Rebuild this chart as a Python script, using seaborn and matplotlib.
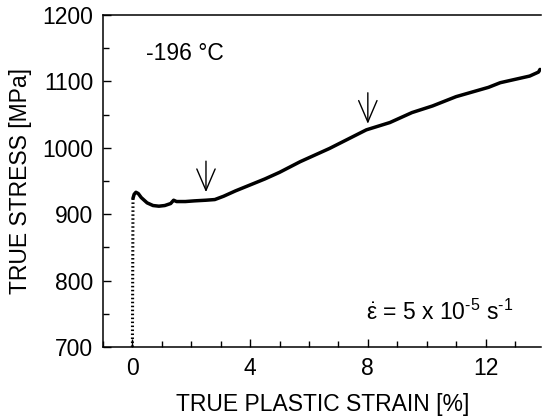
# Stress-strain curve at -196 C
import numpy as np
import pandas as pd
import matplotlib
matplotlib.use('Agg')
import matplotlib.pyplot as plt
from matplotlib.ticker import MultipleLocator
import seaborn as sns

# Data
elastic_strain = [0.0, 0.02]
elastic_stress = [700, 924]

strain = [0.02, 0.06, 0.12, 0.2, 0.3, 0.5, 0.7, 0.9, 1.1, 1.3, 1.4, 1.5, 1.8, 2.1, 2.5,
          2.8, 3.1, 3.5, 4.0, 4.5, 5.0, 5.7, 6.7, 7.95, 8.75, 9.5, 10.2, 11.0,
          12.1, 12.5, 13.5, 13.8, 13.85]
stress = [924, 930, 933, 931, 925, 917, 913, 912, 913, 916, 921, 919, 919, 920, 921,
          922, 927, 935, 944, 953, 963, 979, 999, 1027, 1038, 1053, 1063, 1077,
          1091, 1098, 1108, 1114, 1118]

arrow_x = [2.5, 8.0]
arrow_tip = [929, 1032]
arrow_tail = [984, 1087]

x_ticks = [0, 4, 8, 12]
y_ticks = [700, 800, 900, 1000, 1100, 1200]

sns.set_style('ticks')
plt.rcParams['font.family'] = ['Liberation Sans', 'DejaVu Sans']
plt.rcParams['mathtext.fontset'] = 'custom'
plt.rcParams['mathtext.rm'] = 'Liberation Sans'
plt.rcParams['mathtext.it'] = 'Liberation Sans'
plt.rcParams['text.color'] = 'black'
plt.rcParams['axes.labelcolor'] = 'black'

fig = plt.figure(figsize=(5.42, 4.16), dpi=100)
ax = fig.add_axes([0.190, 0.166, 0.809, 0.798])

df_el = pd.DataFrame({'strain': elastic_strain, 'stress': elastic_stress})
df = pd.DataFrame({'strain': strain, 'stress': stress})

sns.lineplot(data=df_el, x='strain', y='stress', ax=ax, color='black',
             linewidth=2.2, linestyle=(0, (0.5, 0.8)), sort=False)
sns.lineplot(data=df, x='strain', y='stress', ax=ax, color='black',
             linewidth=2.5, sort=False)

for xa, tip, tail in zip(arrow_x, arrow_tip, arrow_tail):
    ax.annotate('', xy=(xa, tip), xytext=(xa, tail),
                arrowprops=dict(arrowstyle='->,head_length=0.7,head_width=0.3',
                                color='black', lw=1.0, mutation_scale=22))

ax.text(0.47, 1132, '-196 °C', fontsize=16.5, color='black', ha='left', va='baseline')
ax.text(7.93, 741, '$\\dot{\\varepsilon}$ = 5 x 10$^{\u20105}$ s$^{\u20101}$',
        fontsize=16.5, color='black', ha='left', va='baseline')

ax.set_xlim(-1, 13.9)
ax.set_ylim(700, 1200)
ax.set_xticks(x_ticks)
ax.set_yticks(y_ticks)
ax.xaxis.set_minor_locator(MultipleLocator(1))
ax.yaxis.set_minor_locator(MultipleLocator(50))
ax.tick_params(which='both', direction='in', labelsize=16.5, width=1.0,
               color='black', labelcolor='black', pad=7)
ax.tick_params(which='major', length=6)
ax.tick_params(which='minor', length=4.5)

ax.spines['right'].set_visible(False)
for s in ['left', 'bottom', 'top']:
    ax.spines[s].set_linewidth(1.1)
    ax.spines[s].set_color('black')

ax.set_xlabel('TRUE PLASTIC STRAIN [%]', fontsize=16.5, color='black')
ax.set_ylabel('TRUE STRESS [MPa]', fontsize=16.5, color='black')
ax.xaxis.set_label_coords(0.5, -0.138)
ax.yaxis.set_label_coords(-0.161, 0.5)
ax.xaxis.label.set_va('top')
ax.yaxis.label.set_va('bottom')

fig.savefig('out.png', dpi=100)
